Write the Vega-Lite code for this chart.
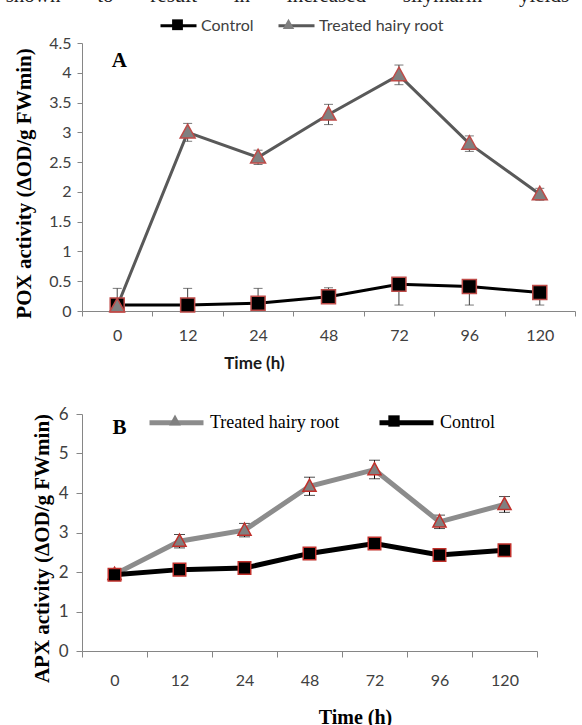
{
  "$schema": "https://vega.github.io/schema/vega-lite/v6.json",
  "padding": {"left": 5, "top": -15, "right": 0, "bottom": 0},
  "background": "white",
  "title": {"text": "shown\u00a0\u00a0\u00a0\u00a0\u00a0\u00a0\u00a0to\u00a0\u00a0\u00a0\u00a0\u00a0\u00a0\u00a0result\u00a0\u00a0\u00a0\u00a0\u00a0\u00a0\u00a0in\u00a0\u00a0\u00a0\u00a0\u00a0\u00a0\u00a0increased\u00a0\u00a0\u00a0\u00a0\u00a0\u00a0\u00a0silymarin\u00a0\u00a0\u00a0\u00a0\u00a0\u00a0\u00a0yields", "font": "Liberation Serif", "fontSize": 21, "fontWeight": "normal", "color": "#222222", "anchor": "start", "frame": "bounds", "offset": 0, "dx": -8},
  "spacing": 22,
  "resolve": {
    "scale": {"x": "independent", "y": "independent", "stroke": "independent", "shape": "independent", "fill": "independent"},
    "axis": {"x": "independent", "y": "independent"},
    "legend": {"stroke": "independent", "shape": "independent", "fill": "independent"}
  },
  "datasets": {
    "pox": [
      {"t": 0, "series": "Control", "marker": "Control", "v": 0.10, "lo": 0.10, "hi": 0.38},
      {"t": 12, "series": "Control", "marker": "Control", "v": 0.10, "lo": 0.10, "hi": 0.38},
      {"t": 24, "series": "Control", "marker": "Control", "v": 0.13, "lo": 0.13, "hi": 0.38},
      {"t": 48, "series": "Control", "marker": "Control", "v": 0.24, "lo": 0.24, "hi": 0.39},
      {"t": 72, "series": "Control", "marker": "Control", "v": 0.45, "lo": 0.10, "hi": 0.45},
      {"t": 96, "series": "Control", "marker": "Control", "v": 0.41, "lo": 0.10, "hi": 0.41},
      {"t": 120, "series": "Control", "marker": "Control", "v": 0.31, "lo": 0.10, "hi": 0.31},
      {"t": 0, "series": "Treated hairy root", "marker": "Treated hairy root", "v": 0.08, "lo": null, "hi": null},
      {"t": 12, "series": "Treated hairy root", "marker": "Treated hairy root", "v": 3.00, "lo": 2.85, "hi": 3.15},
      {"t": 24, "series": "Treated hairy root", "marker": "Treated hairy root", "v": 2.58, "lo": 2.46, "hi": 2.70},
      {"t": 48, "series": "Treated hairy root", "marker": "Treated hairy root", "v": 3.30, "lo": 3.13, "hi": 3.47},
      {"t": 72, "series": "Treated hairy root", "marker": "Treated hairy root", "v": 3.96, "lo": 3.80, "hi": 4.13},
      {"t": 96, "series": "Treated hairy root", "marker": "Treated hairy root", "v": 2.81, "lo": 2.68, "hi": 2.94},
      {"t": 120, "series": "Treated hairy root", "marker": "Treated hairy root", "v": 1.96, "lo": 1.86, "hi": 2.06}
    ],
    "apx": [
      {"time": 0, "grp": "Treated hairy root", "sym": "Treated hairy root", "act": 1.94, "low": null, "high": null},
      {"time": 12, "grp": "Treated hairy root", "sym": "Treated hairy root", "act": 2.78, "low": 2.61, "high": 2.95},
      {"time": 24, "grp": "Treated hairy root", "sym": "Treated hairy root", "act": 3.06, "low": 2.89, "high": 3.23},
      {"time": 48, "grp": "Treated hairy root", "sym": "Treated hairy root", "act": 4.17, "low": 3.94, "high": 4.40},
      {"time": 72, "grp": "Treated hairy root", "sym": "Treated hairy root", "act": 4.59, "low": 4.36, "high": 4.83},
      {"time": 96, "grp": "Treated hairy root", "sym": "Treated hairy root", "act": 3.27, "low": 3.10, "high": 3.44},
      {"time": 120, "grp": "Treated hairy root", "sym": "Treated hairy root", "act": 3.71, "low": 3.51, "high": 3.91},
      {"time": 0, "grp": "Control", "sym": "Control", "act": 1.93, "low": null, "high": null},
      {"time": 12, "grp": "Control", "sym": "Control", "act": 2.06, "low": null, "high": null},
      {"time": 24, "grp": "Control", "sym": "Control", "act": 2.10, "low": null, "high": null},
      {"time": 48, "grp": "Control", "sym": "Control", "act": 2.47, "low": null, "high": null},
      {"time": 72, "grp": "Control", "sym": "Control", "act": 2.72, "low": null, "high": null},
      {"time": 96, "grp": "Control", "sym": "Control", "act": 2.43, "low": null, "high": null},
      {"time": 120, "grp": "Control", "sym": "Control", "act": 2.55, "low": null, "high": null}
    ]
  },
  "vconcat": [
    {
      "width": 493,
      "height": 268,
      "data": {"name": "pox"},
      "encoding": {
        "x": {
          "field": "t", "type": "ordinal", "title": "Time (h)",
          "scale": {"type": "band", "domain": [0, 12, 24, 48, 72, 96, 120], "paddingInner": 0, "paddingOuter": 0},
          "axis": {"title": "Time (h)", "titleFont": "Lato", "titleFontWeight": "bold", "titleFontSize": 17, "titleColor": "#1a1a1a", "titleX": 172, "titlePadding": 12,
                   "labelAngle": 0, "labelFont": "Lato", "labelFontSize": 16, "labelColor": "#404040", "labelPadding": 11,
                   "tickBand": "extent", "tickSize": 5, "tickColor": "#868686", "domainColor": "#868686", "grid": false}
        },
        "y": {
          "field": "v", "type": "quantitative", "title": "POX activity (\u0394OD/g FWmin)",
          "scale": {"domain": [0, 4.5], "nice": false, "zero": true},
          "axis": {"title": "POX activity (\u0394OD/g FWmin)", "titleFont": "Liberation Serif", "titleFontWeight": "bold", "titleFontSize": 21, "titleColor": "#000000", "titleY": 140, "titlePadding": 14,
                   "values": [0, 0.5, 1, 1.5, 2, 2.5, 3, 3.5, 4, 4.5], "format": "~g",
                   "labelFont": "Lato", "labelFontSize": 16, "labelColor": "#404040", "labelPadding": 6,
                   "tickSize": 5, "tickColor": "#868686", "domainColor": "#868686", "grid": false}
        }
      },
      "layer": [
        {
          "mark": {"type": "errorbar", "ticks": {"size": 9, "color": "#404040"}, "rule": {"color": "#404040", "strokeWidth": 1}},
          "encoding": {"y": {"field": "lo", "type": "quantitative"}, "y2": {"field": "hi"}}
        },
        {
          "mark": {"type": "line", "strokeWidth": 3},
          "encoding": {
            "stroke": {"field": "series", "type": "nominal",
              "scale": {"domain": ["Control", "Treated hairy root"], "range": ["#000000", "#595959"]},
              "legend": {"orient": "none", "legendX": 77, "legendY": -37, "direction": "horizontal", "title": null, "padding": 0,
                "symbolType": "stroke", "symbolSize": 1296, "symbolStrokeWidth": 3,
                "labelFont": "Lato", "labelFontSize": 16, "labelColor": "#404040", "labelOffset": 3, "columnPadding": 18, "zindex": 1}
            }
          }
        },
        {
          "mark": {"type": "point", "filled": true, "opacity": 1, "stroke": "#be4b48", "strokeWidth": 1.5, "size": 2178},
          "encoding": {
            "shape": {"field": "marker", "type": "nominal",
              "scale": {"range": ["M-0.3,-0.3H0.3V0.3H-0.3Z", "M0,-0.34L0.32,0.24L-0.32,0.24Z"]},
              "legend": {"orient": "none", "legendX": 77, "legendY": -37, "direction": "horizontal", "title": null, "padding": 0,
                "symbolSize": 1296, "symbolStrokeColor": "#be4b48", "symbolStrokeWidth": 1, "symbolOpacity": 1,
                "labelFont": "Lato", "labelFontSize": 16, "labelColor": "#404040", "labelOpacity": 0, "labelOffset": 3, "columnPadding": 18, "zindex": 2}
            },
            "fill": {"field": "marker", "type": "nominal",
              "scale": {"range": ["#000000", "#808080"]},
              "legend": {"orient": "none", "legendX": 77, "legendY": -37, "direction": "horizontal", "title": null, "padding": 0,
                "symbolSize": 1296, "symbolStrokeColor": "#be4b48", "symbolStrokeWidth": 1, "symbolOpacity": 1,
                "labelFont": "Lato", "labelFontSize": 16, "labelColor": "#404040", "labelOpacity": 0, "labelOffset": 3, "columnPadding": 18, "zindex": 2}
            }
          }
        },
        {
          "data": {"values": [{"t": 0, "v": 4.2, "label": "A"}]},
          "mark": {"type": "text", "font": "Liberation Serif", "fontWeight": "bold", "fontSize": 21, "dx": 2, "color": "#000000"},
          "encoding": {"text": {"field": "label"}}
        }
      ]
    },
    {
      "width": 455,
      "height": 237,
      "data": {"name": "apx"},
      "encoding": {
        "x": {
          "field": "time", "type": "ordinal", "title": "Time (h)",
          "scale": {"type": "band", "domain": [0, 12, 24, 48, 72, 96, 120], "paddingInner": 0, "paddingOuter": 0},
          "axis": {"title": "Time (h)", "titleFont": "Liberation Serif", "titleFontWeight": "bold", "titleFontSize": 20, "titleColor": "#000000", "titleX": 273, "titlePadding": 19,
                   "labelAngle": 0, "labelFont": "Lato", "labelFontSize": 16, "labelColor": "#404040", "labelPadding": 15,
                   "tickBand": "extent", "tickSize": 6, "tickColor": "#868686", "domainColor": "#868686", "grid": false}
        },
        "y": {
          "field": "act", "type": "quantitative", "title": "APX activity (\u0394OD/g FWmin)",
          "scale": {"domain": [0, 6], "nice": false},
          "axis": {"title": "APX activity (\u0394OD/g FWmin)", "titleFont": "Liberation Serif", "titleFontWeight": "bold", "titleFontSize": 21, "titleColor": "#000000", "titleY": 134, "titlePadding": 6,
                   "values": [0, 1, 2, 3, 4, 5, 6],
                   "labelFont": "Lato", "labelFontSize": 17, "labelColor": "#404040", "labelPadding": 8,
                   "tickSize": 6, "tickColor": "#868686", "domainColor": "#868686", "grid": false}
        }
      },
      "layer": [
        {
          "mark": {"type": "errorbar", "ticks": {"size": 11, "color": "#000000"}, "rule": {"color": "#000000", "strokeWidth": 1}},
          "encoding": {"y": {"field": "low", "type": "quantitative"}, "y2": {"field": "high"}}
        },
        {
          "mark": {"type": "line", "strokeWidth": 5},
          "encoding": {
            "stroke": {"field": "grp", "type": "nominal",
              "scale": {"domain": ["Treated hairy root", "Control"], "range": ["#8c8c8c", "#000000"]},
              "legend": {"orient": "none", "legendX": 65, "legendY": -21, "direction": "horizontal", "title": null, "padding": 0,
                "symbolType": "stroke", "symbolSize": 2916, "symbolStrokeWidth": 5,
                "labelFont": "Liberation Serif", "labelFontSize": 18, "labelColor": "#000000", "labelOffset": 4, "columnPadding": 29, "zindex": 1}
            }
          }
        },
        {
          "mark": {"type": "point", "filled": true, "opacity": 1, "stroke": "#c0302b", "strokeWidth": 1.5, "size": 3550},
          "encoding": {
            "shape": {"field": "sym", "type": "nominal", "sort": "descending",
              "scale": {"range": ["M0,-0.24L0.22,0.17L-0.22,0.17Z", "M-0.21,-0.21H0.21V0.21H-0.21Z"]},
              "legend": {"orient": "none", "legendX": 65, "legendY": -21, "direction": "horizontal", "title": null, "padding": 0,
                "symbolSize": 2916, "symbolStrokeColor": "#c0302b", "symbolStrokeWidth": 1.2, "symbolOpacity": 1,
                "labelFont": "Liberation Serif", "labelFontSize": 18, "labelColor": "#000000", "labelOpacity": 0, "labelOffset": 4, "columnPadding": 29, "zindex": 2}
            },
            "fill": {"field": "sym", "type": "nominal", "sort": "descending",
              "scale": {"range": ["#808080", "#000000"]},
              "legend": {"orient": "none", "legendX": 65, "legendY": -21, "direction": "horizontal", "title": null, "padding": 0,
                "symbolSize": 2916, "symbolStrokeColor": "#c0302b", "symbolStrokeWidth": 1.2, "symbolOpacity": 1,
                "labelFont": "Liberation Serif", "labelFontSize": 18, "labelColor": "#000000", "labelOpacity": 0, "labelOffset": 4, "columnPadding": 29, "zindex": 2}
            }
          }
        },
        {
          "data": {"values": [{"time": 0, "act": 5.65, "label": "B"}]},
          "mark": {"type": "text", "font": "Liberation Serif", "fontWeight": "bold", "fontSize": 21, "dx": 5, "color": "#000000"},
          "encoding": {"text": {"field": "label"}}
        }
      ]
    }
  ],
  "config": {
    "view": {"stroke": null},
    "font": "Lato"
  }
}
